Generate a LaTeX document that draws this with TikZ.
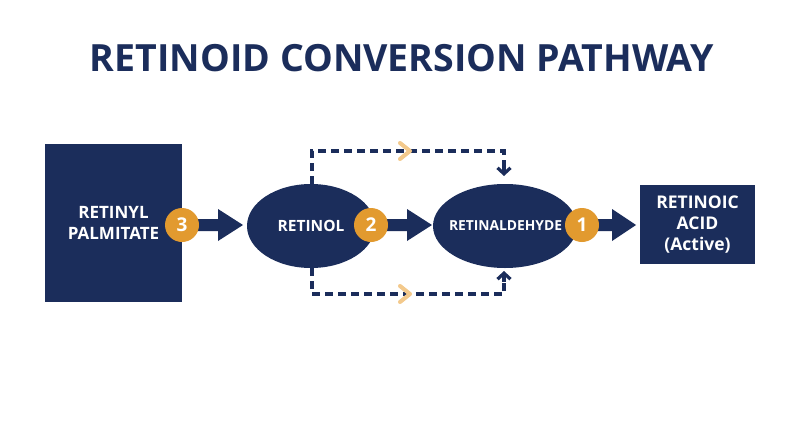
\documentclass[tikz,border=0pt]{standalone}
\usepackage{fontspec}
\setmainfont{Open Sans}
\usetikzlibrary{arrows.meta,shapes.geometric}
\definecolor{navy}{HTML}{1B2D5B}
\definecolor{amber}{HTML}{E29A2F}
\definecolor{paleamber}{HTML}{F3C98C}
\tikzset{
  block/.style={fill=navy,draw=none,text=white,font=\bfseries\fontsize{17}{21}\selectfont,align=center,inner sep=0pt},
  oval/.style={ellipse,fill=navy,draw=none,inner sep=0pt},
  ovaltext/.style={text=white,inner sep=0pt},
  badge/.style={circle,fill=amber,draw=none,text=white,font=\bfseries\fontsize{19}{20}\selectfont,minimum size=34pt,inner sep=0pt},
  fatarrow/.style={fill=navy,draw=none},
  dashline/.style={draw=navy,line width=3.2pt,dash pattern=on 8pt off 5pt},
  chev/.style={draw=paleamber,line width=4pt,line cap=round,line join=round}
}
\begin{document}
\begin{tikzpicture}[x=1pt,y=-1pt]
\useasboundingbox[fill=white] (0,0) rectangle (800,447);
\node[text=navy,font=\bfseries\fontsize{37.5}{40}\selectfont] (title) at (402,58) {RETINOID CONVERSION PATHWAY};
% boxes
\node[block,minimum width=137pt,minimum height=158pt] (palm) at (113.5,223) {RETINYL\\PALMITATE};
\node[oval,minimum width=128pt,minimum height=84pt] (retinol) at (311,226) {};
\node[ovaltext,font=\bfseries\fontsize{15.5}{18}\selectfont] (retinoltext) at (retinol.center) {RETINOL};
\node[oval,minimum width=144pt,minimum height=84pt] (retinal) at (505,226) {};
\node[ovaltext,font=\bfseries\fontsize{13.8}{18}\selectfont] (retinaltext) at (505.5,226) {RETINALDEHYDE};
\node[block,minimum width=115pt,minimum height=79pt,font=\bfseries\fontsize{17.5}{21}\selectfont] (acid) at (697.5,224.5) {RETINOIC\\ACID\\(Active)};
% dashed paths
\coordinate (tl) at (312,151);
\coordinate (tr) at (504,151);
\coordinate (bl) at (312,294);
\coordinate (br) at (504,294);
\draw[dashline] (retinol.north -| tl) -- (tl) -- (tr) -- ++(0,17);
\draw[navy,line width=3.2pt,-{Straight Barb[length=6pt,width=13pt]}] (504,166) -- (504,176);
\draw[dashline] (retinol.south -| bl) -- (bl) -- (br) -- ++(0,-15);
\draw[navy,line width=3.2pt,-{Straight Barb[length=6pt,width=13pt]}] (504,282) -- (504,271);
\draw[chev] (400,143) -- (410,151) -- (400,159);
\draw[chev] (400,286) -- (410,294) -- (400,302);
% fat arrows
\fill[fatarrow] (190,219) -- (218,219) -- (218,209) -- (243,225) -- (218,241) -- (218,231) -- (190,231) -- cycle;
\fill[fatarrow] (380,219) -- (407,219) -- (407,209) -- (432,225) -- (407,241) -- (407,231) -- (380,231) -- cycle;
\fill[fatarrow] (590,219) -- (612,219) -- (612,209) -- (636,225) -- (612,241) -- (612,231) -- (590,231) -- cycle;
% badges
\node[badge] (b3) at (182,225) {3};
\node[badge] (b2) at (371,225) {2};
\node[badge] (b1) at (582,225) {1};
\end{tikzpicture}
\end{document}
